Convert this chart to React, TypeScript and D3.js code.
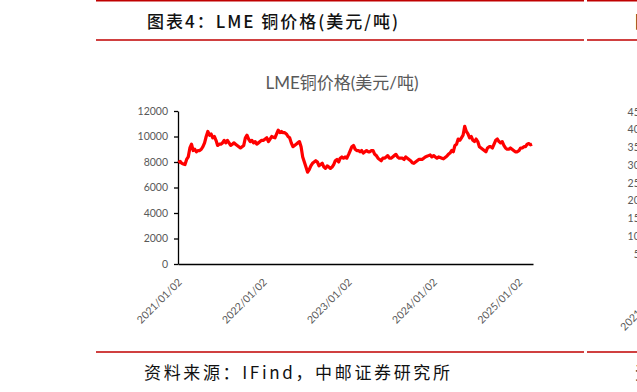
import React, { useEffect, useRef } from "react";
import * as d3 from "d3";

// weekly LME copper (USD/t)
const copper2021 = [
  7950, 8050, 7900, 7850, 7800, 8200, 8400, 9100, 9400, 8900, 9000, 8800, 8900,
  8900, 9000, 9200, 9500, 10000, 10400, 10100, 10200, 9900, 10000, 9700, 9300,
  9400, 9400, 9500, 9700, 9500, 9700, 9500, 9300, 9400, 9500, 9400, 9300, 9200,
  9100, 9200, 9300, 9900, 10100, 9800, 9600, 9700, 9500, 9600, 9400, 9500, 9600,
  9700,
];
const copper2022 = [
  9700, 9800, 9900, 9600, 9800, 10000, 9950, 9900, 10200, 10500, 10300, 10400,
  10300, 10300, 10200, 10000, 9900, 9500, 9200, 9300, 9400, 9500, 9600, 9200,
  8400, 8000, 7600, 7200, 7400, 7700, 7900, 8000, 8100, 8000, 7700, 7800, 7900,
  7600, 7500, 7700, 7600, 7500, 7600, 7800, 8100, 8200, 8000, 8300, 8400, 8300,
  8400, 8300,
];
const copper2023 = [
  8600, 8900, 9200, 9300, 9000, 8900, 8900, 8800, 8900, 8700, 8800, 8900, 8800,
  8800, 8900, 8900, 8600, 8500, 8300, 8200, 8100, 8300, 8300, 8400, 8500, 8300,
  8300, 8400, 8500, 8600, 8400, 8300, 8300, 8300, 8200, 8400, 8300, 8200, 8100,
  7950, 7900, 8000, 8100, 8200, 8200, 8200, 8300, 8400, 8450, 8500, 8550, 8400,
];
const copper2024 = [
  8500, 8400, 8300, 8400, 8350, 8300, 8250, 8350, 8450, 8600, 8700, 8900, 8800,
  9300, 9400, 9800, 9700, 9900, 10100, 10800, 10400, 10200, 9900, 10000, 9700,
  9600, 9800, 9600, 9200, 9100, 9000, 8900, 8800, 9100, 9200, 9200, 9100, 9400,
  9700, 9800, 9600, 9500, 9600, 9300, 9100, 9000, 9000, 9100, 9000, 8900, 8800,
  8800,
];
const copper2025 = [8900, 9100, 9100, 9200, 9200, 9400, 9450, 9350, 9400];

const seriesByYear: [number, number[]][] = [
  [2021, copper2021],
  [2022, copper2022],
  [2023, copper2023],
  [2024, copper2024],
  [2025, copper2025],
];

const yTicks = [0, 2000, 4000, 6000, 8000, 10000, 12000];
const xTickDates = ["2021/01/02", "2022/01/02", "2023/01/02", "2024/01/02", "2025/01/02"];
const rightTicks = [45000, 40000, 35000, 30000, 25000, 20000, 15000, 10000, 5000];

const W = 637;
const H = 392;

const App = () => {
  const svgRef = useRef<SVGSVGElement>(null);

  useEffect(() => {
    const svg = d3.select(svgRef.current);
    svg.selectAll("*").remove();

    const parse = d3.timeParse("%Y/%m/%d");
    const data: { date: Date; value: number }[] = [];
    seriesByYear.forEach(([year, vals]) => {
      vals.forEach((v, i) =>
        data.push({ date: d3.timeDay.offset(new Date(year, 0, 4), i * 7), value: v })
      );
    });

    const x = d3
      .scaleTime()
      .domain([new Date(2021, 0, 2), new Date(2025, 2, 5)])
      .range([178, 533]);
    const y = d3.scaleLinear().domain([0, 12000]).range([264, 111]);

    const labelFont = "Lato, 'Noto Sans CJK SC', sans-serif";
    const grey = "#595959";

    // header / footer rules
    const red = "#C00000";
    [0.8, 40, 352].forEach((ry) => {
      svg.append("line").attr("x1", 96).attr("x2", 584).attr("y1", ry).attr("y2", ry)
        .attr("stroke", red).attr("stroke-width", 1.5);
      svg.append("line").attr("x1", 587).attr("x2", W).attr("y1", ry).attr("y2", ry)
        .attr("stroke", red).attr("stroke-width", 1.5);
    });

    svg.append("text")
      .attr("x", 147).attr("y", 28)
      .attr("textLength", 251).attr("lengthAdjust", "spacing")
      .style("font-family", "'Noto Sans CJK SC', sans-serif")
      .style("font-size", "17px").style("font-weight", 500).attr("fill", "#111")
      .text("图表4：LME 铜价格(美元/吨)");

    svg.append("text")
      .attr("x", 144).attr("y", 379)
      .attr("textLength", 306).attr("lengthAdjust", "spacing")
      .style("font-family", "'Noto Sans CJK SC', sans-serif")
      .style("font-size", "17px").attr("fill", "#111")
      .text("资料来源：IFind，中邮证券研究所");

    // partial neighbour figure at right edge
    svg.append("text").attr("x", 635).attr("y", 28)
      .style("font-family", "'Noto Sans CJK SC', sans-serif")
      .style("font-size", "17px").style("font-weight", 500).attr("fill", "#111")
      .text("图表5");
    svg.append("text").attr("x", 635).attr("y", 379)
      .style("font-family", "'Noto Sans CJK SC', sans-serif")
      .style("font-size", "17px").attr("fill", "#111")
      .text("资料来源");
    const yR = d3.scaleLinear().domain([0, 45000]).range([272, 112]);
    svg.append("g").selectAll("text").data(rightTicks).enter().append("text")
      .attr("x", 658).attr("y", (d) => yR(d) + 3.5)
      .attr("text-anchor", "end")
      .style("font-family", labelFont).style("font-size", "10.5px").attr("fill", grey)
      .text((d) => d);
    svg.append("text")
      .attr("transform", "translate(666,290) rotate(-45)")
      .attr("text-anchor", "end")
      .style("font-family", labelFont).style("font-size", "10.5px").attr("fill", grey)
      .text("2021/01/02");

    // chart title
    svg.append("text")
      .attr("x", 342).attr("y", 89).attr("text-anchor", "middle")
      .style("font-family", labelFont).style("font-size", "17px").attr("fill", grey)
      .text("LME铜价格(美元/吨)");

    // y axis
    const yAxis = svg.append("g").attr("transform", "translate(178,0)")
      .call(
        d3.axisLeft(y).tickValues(yTicks).tickFormat(d3.format("d"))
          .tickSize(4).tickPadding(6).tickSizeOuter(0)
      );
    yAxis.select(".domain").attr("stroke", "#000").attr("stroke-width", 1.3);
    yAxis.selectAll(".tick line").attr("stroke", "#000").attr("stroke-width", 1.3);
    yAxis.selectAll(".tick text")
      .style("font-family", labelFont).style("font-size", "10.5px").attr("fill", grey);

    // x axis
    const xAxis = svg.append("g").attr("transform", "translate(0,264)")
      .call(
        d3.axisBottom(x)
          .tickValues(xTickDates.map((s) => parse(s) as Date))
          .tickFormat((d) => d3.timeFormat("%Y/%m/%d")(d as Date))
          .tickSize(0).tickSizeOuter(0)
      );
    xAxis.select(".domain").attr("stroke", "#000").attr("stroke-width", 1.5);
    xAxis.selectAll(".tick text")
      .attr("text-anchor", "end")
      .attr("x", 0).attr("y", 0).attr("dy", 0)
      .attr("transform", "translate(4,19) rotate(-45)")
      .style("font-family", labelFont).style("font-size", "10.5px").attr("fill", grey);

    // price line
    const line = d3.line<{ date: Date; value: number }>()
      .x((d) => x(d.date))
      .y((d) => y(d.value));
    svg.append("path").datum(data)
      .attr("d", line)
      .attr("fill", "none")
      .attr("stroke", "#FF0000")
      .attr("stroke-width", 3.2)
      .attr("stroke-linejoin", "round");
  }, []);

  return (
    <svg
      ref={svgRef}
      width={W}
      height={H}
      style={{ position: "absolute", left: 0, top: 0, background: "#fff" }}
    />
  );
};

export default App;
